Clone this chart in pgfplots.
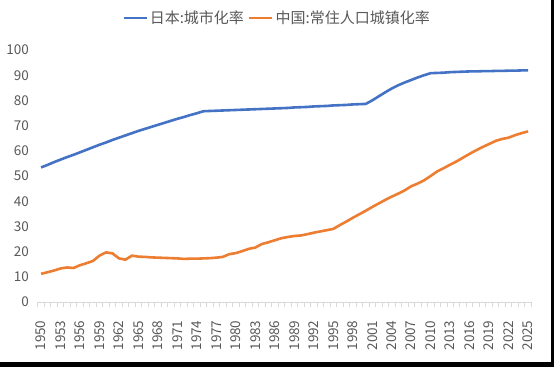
\documentclass[border=0pt]{standalone}
\usepackage{fontspec}
\setmainfont{Noto Sans CJK SC}
\usepackage{pgfplots}
\usepackage{pgfplotstable}
\pgfplotsset{compat=1.18}
\definecolor{jpblue}{HTML}{4472C4}
\definecolor{cnorange}{HTML}{ED7D31}
\definecolor{txtgray}{HTML}{595959}
\definecolor{axgray}{HTML}{D9D9D9}

\pgfplotstableread{
year jp cn
1950 53.4 11.2
1951 54.4 11.8
1952 55.5 12.5
1953 56.5 13.3
1954 57.5 13.7
1955 58.4 13.5
1956 59.4 14.6
1957 60.4 15.4
1958 61.4 16.3
1959 62.4 18.4
1960 63.3 19.7
1961 64.3 19.3
1962 65.2 17.3
1963 66.1 16.8
1964 67.0 18.4
1965 67.9 18.0
1966 68.7 17.9
1967 69.5 17.7
1968 70.3 17.6
1969 71.1 17.5
1970 71.9 17.4
1971 72.7 17.3
1972 73.4 17.1
1973 74.2 17.2
1974 74.9 17.2
1975 75.7 17.3
1976 75.8 17.4
1977 75.9 17.6
1978 76.0 17.9
1979 76.1 19.0
1980 76.2 19.4
1981 76.3 20.2
1982 76.4 21.1
1983 76.5 21.6
1984 76.6 23.0
1985 76.7 23.7
1986 76.8 24.5
1987 76.9 25.3
1988 77.0 25.8
1989 77.2 26.2
1990 77.3 26.4
1991 77.4 26.9
1992 77.6 27.5
1993 77.7 28.0
1994 77.8 28.5
1995 78.0 29.0
1996 78.1 30.5
1997 78.2 31.9
1998 78.4 33.4
1999 78.5 34.8
2000 78.6 36.2
2001 80.0 37.7
2002 81.6 39.1
2003 83.2 40.5
2004 84.7 41.8
2005 86.0 43.0
2006 87.1 44.3
2007 88.1 45.9
2008 89.1 47.0
2009 90.0 48.3
2010 90.8 50.0
2011 90.9 51.8
2012 91.0 53.1
2013 91.2 54.5
2014 91.3 55.8
2015 91.4 57.3
2016 91.5 58.8
2017 91.5 60.2
2018 91.6 61.5
2019 91.6 62.7
2020 91.7 63.9
2021 91.7 64.7
2022 91.8 65.2
2023 91.8 66.2
2024 91.9 67.0
2025 91.9 67.7
}\datatable

\begin{document}
\begin{tikzpicture}
\path[use as bounding box] (0,0) rectangle (554bp,367bp);
\fill[white] (0,0) rectangle (554bp,367bp);
\begin{axis}[
  at={(37.8bp,65bp)}, anchor=south west,
  scale only axis, width=493.5bp, height=252bp,
  xmin=1949.5, xmax=2025.5, ymin=0, ymax=100,
  axis x line*=bottom, axis y line*=left,
  x axis line style={-, draw=axgray, line width=0.75bp},
  y axis line style={draw=none},
  xtick={1950,1953,...,2025},
  minor xtick={1949.5,1950.5,...,2025.5},
  ytick={0,10,...,100},
  major tick length=0pt,
  minor tick length=5bp,
  tick align=outside,
  major tick style={draw=none},
  minor x tick style={draw=axgray, line width=0.75bp},
  /pgf/number format/1000 sep={},
  /pgf/number format/assume math mode=true,
  tick label style={font=\fontsize{13.5bp}{16bp}\selectfont, text=txtgray},
  xticklabel style={rotate=90, anchor=east},
  xticklabel shift=15bp,
  yticklabel shift=5.5bp,
  legend style={at={(0.4847,1.127)}, anchor=center, draw=none, fill=none,
    font=\fontsize{15bp}{18bp}\selectfont, text=txtgray,
    /tikz/every even column/.append style={column sep=2bp}},
  legend columns=-1,
  legend image code/.code={\draw[#1] (0bp,0bp) -- (23bp,0bp);},
]
\addplot[jpblue, line width=2.6bp] table[x=year, y=jp] {\datatable};
\addlegendentry{日本:城市化率}
\addplot[cnorange, line width=2.6bp] table[x=year, y=cn] {\datatable};
\addlegendentry{中国:常住人口城镇化率}
\end{axis}
\fill[black] (551bp,0) rectangle (554bp,367bp);
\fill[black] (0,0) rectangle (554bp,4.5bp);
\end{tikzpicture}
\end{document}
